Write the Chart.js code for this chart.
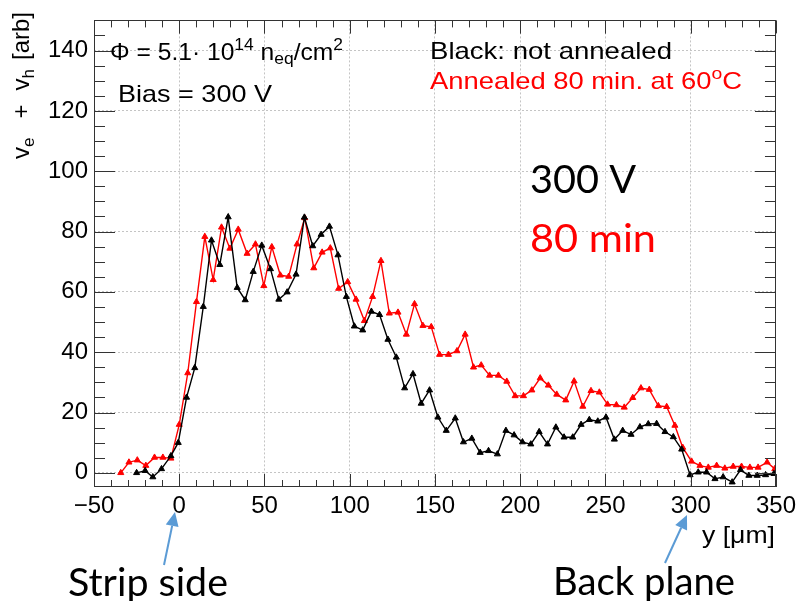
<!DOCTYPE html>
<html>
<head>
<meta charset="utf-8">
<script src="https://cdn.jsdelivr.net/npm/chart.js@4.4.1/dist/chart.umd.min.js"></script>
<style>
  html, body { margin: 0; padding: 0; background: #fff; }
  #wrap { width: 801px; height: 601px; }
</style>
</head>
<body>
<div id="wrap"><canvas id="c" width="801" height="601"></canvas></div>
<script>
// 讀圖得到的數值 (y 單位 µm)
const xBlack = [-25, -20, -15.5, -10.4, -4.9, -0.6, 4.3, 9.1, 14.1, 18.9, 23.8, 28.7, 34, 38.7, 43.4, 48.4, 53.5, 58.4,
  63.3, 68.5, 73.4, 78.3, 83.2, 88.1, 93.1, 98, 102.7, 107.6, 112.7, 117.5, 122.4, 127.3, 132.2, 137.1, 141.9, 146.8,
  151.7, 156.6, 161.9, 166.7, 171.6, 176.5, 181.4, 186.6, 191.6, 196.4, 201.3, 206.2, 211.1, 216, 220.9, 225.7, 230.8,
  235.7, 240.5, 245.5, 250.3, 255.2, 260.1, 265, 270.2, 275.1, 280, 284.9, 289.8, 294.7, 299.6, 304.4, 309.3, 314.2,
  319, 324.3, 329.2, 334.1, 339, 343.9, 348.8];
const yBlack = [0, 0.7, -1.4, 1.3, 5.6, 10, 25, 34.8, 55.1, 77.1, 69, 84.8, 61.4, 57.3, 66.7, 75.4, 67.6, 57.5,
  59.9, 65.8, 84.7, 75.2, 79, 81.7, 72.2, 58.4, 48.6, 47.3, 53.5, 52.4, 44.2, 38.3, 28.1, 32.8, 23, 27.4,
  18.4, 14, 18.1, 10.2, 11.4, 6.7, 7.3, 6.2, 14, 12.5, 10.2, 9.5, 13.6, 9.5, 15.1, 11.8, 11.8,
  16, 17.6, 17.1, 18.4, 11.1, 14, 12.7, 15.2, 16.2, 16.3, 13.6, 11.9, 7.8, -0.7, 0.2, 0.2, -2,
  -1.4, -3.1, 1, -0.9, -0.9, -0.7, -0.3];

const xRed = [-34.3, -29.5, -24.6, -19.6, -14.5, -9.6, -4.9, 0, 5, 10.1, 15, 19.9, 24.8, 29.7, 34.6, 39.8, 44.7, 49.6,
  54.3, 59.3, 64.2, 69.1, 73.6, 78.9, 83.8, 88.6, 93.5, 98.8, 103.7, 108.6, 113.4, 118.3, 123.2, 128.3, 133.2, 138,
  142.9, 147.8, 152.7, 157.9, 162.9, 167.7, 172.6, 177.1, 182, 187.2, 192.1, 197, 201.9, 206.8, 211.7, 216.5, 221.4,
  226.7, 231.6, 236.7, 241.5, 246.4, 251.2, 256.4, 261, 266, 270.8, 275.7, 281, 285.9, 290.7, 295.3, 300.5, 305.4,
  310.3, 315.2, 320, 324.9, 329.8, 334.7, 339.5, 344.8, 349.3];
const yRed = [0, 3.5, 4.2, 2.4, 5.1, 5.1, 4.8, 16, 33.1, 56.7, 78.3, 64, 81.4, 74.4, 80.7, 72.7, 75.8, 62,
  74.9, 65.5, 65.1, 75.8, 84.5, 67.9, 73.1, 74.5, 61.1, 63.3, 57.5, 50.4, 58.4, 70.3, 52.9, 53.2, 45.9, 56,
  48.8, 48.4, 39.2, 39.2, 40.4, 45.9, 35, 35.7, 32.3, 32.3, 30.3, 25.5, 25.5, 27.4, 31.4, 29, 26,
  24.1, 30.4, 22, 27.2, 26.7, 22.7, 22.5, 21.7, 24.9, 28.1, 27.6, 22.2, 21.9, 15.7, 8.4, 3.8, 2.4,
  1.8, 2.4, 1.5, 2.1, 2.1, 1.8, 1.8, 3.5, 1.3];

const xTicks = [-50, 0, 50, 100, 150, 200, 250, 300, 350];
const yTicks = [0, 20, 40, 60, 80, 100, 120, 140];

const ROOT_FONT = '"Liberation Sans", Arial, sans-serif';
const SLIDE_FONT = 'Lato, "Open Sans", sans-serif';
const BLUE = '#5b9bd5';

// 量文字寬度 (含上下標)
function richWidth(ctx, parts) {
  let w = 0;
  parts.forEach(p => {
    if (typeof p === 'number') { w += p; return; }
    ctx.font = p[1] + 'px ' + ROOT_FONT;
    w += ctx.measureText(p[0]).width;
  });
  return w;
}

// 畫含上下標的文字, 可橫向縮放到指定寬度
function richText(ctx, parts, x, y, width) {
  const natural = richWidth(ctx, parts);
  ctx.save();
  ctx.translate(x, y);
  if (width) ctx.scale(width / natural, 1);
  let cx = 0;
  parts.forEach(p => {
    if (typeof p === 'number') { cx += p; return; }
    const [t, size, dy] = p;
    ctx.font = size + 'px ' + ROOT_FONT;
    ctx.fillText(t, cx, dy || 0);
    cx += ctx.measureText(t).width;
  });
  ctx.restore();
}

function fitText(ctx, text, x, y, w, size, color) {
  ctx.save();
  ctx.font = size + 'px ' + SLIDE_FONT;
  ctx.fillStyle = color;
  const m = ctx.measureText(text).width;
  ctx.translate(x, y);
  ctx.scale(w / m, 1);
  ctx.fillText(text, 0, 0);
  ctx.restore();
}

function arrow(ctx, x1, y1, x2, y2) {
  const a = Math.atan2(y2 - y1, x2 - x1);
  const hl = 14, hw = 6.5;
  const bx = x2 - hl * Math.cos(a), by = y2 - hl * Math.sin(a);
  ctx.save();
  ctx.strokeStyle = BLUE;
  ctx.fillStyle = BLUE;
  ctx.lineWidth = 2;
  ctx.beginPath();
  ctx.moveTo(x1, y1);
  ctx.lineTo(bx, by);
  ctx.stroke();
  ctx.beginPath();
  ctx.moveTo(x2, y2);
  ctx.lineTo(bx - hw * Math.sin(a), by + hw * Math.cos(a));
  ctx.lineTo(bx + hw * Math.sin(a), by - hw * Math.cos(a));
  ctx.closePath();
  ctx.fill();
  ctx.restore();
}

// 外框與刻度 (ROOT 風格, 刻度朝內)
const framePlugin = {
  id: 'frame',
  afterDatasetsDraw(chart) {
    const ctx = chart.ctx;
    const { left, right, top, bottom } = chart.chartArea;
    const xs = chart.scales.x, ys = chart.scales.y;
    ctx.save();
    ctx.strokeStyle = '#333';
    ctx.lineWidth = 1;
    ctx.beginPath();
    for (let i = 0; i < xTicks.length - 1; i++) {
      const step = (xTicks[i + 1] - xTicks[i]) / 5;
      for (let k = 0; k <= 5; k++) {
        const px = Math.round(xs.getPixelForValue(xTicks[i] + k * step)) + 0.5;
        const len = (k === 0 || k === 5) ? 13 : 7;
        ctx.moveTo(px, bottom); ctx.lineTo(px, bottom - len);
        ctx.moveTo(px, top); ctx.lineTo(px, top + len);
      }
    }
    for (let i = 0; i < yTicks.length; i++) {
      for (let k = 0; k < 4; k++) {
        const v = yTicks[i] + k * 5;
        if (v > ys.max) break;
        const py = Math.round(ys.getPixelForValue(v)) + 0.5;
        const len = k === 0 ? 21 : 11;
        ctx.moveTo(left, py); ctx.lineTo(left + len, py);
        ctx.moveTo(right, py); ctx.lineTo(right - len, py);
      }
    }
    ctx.stroke();
    ctx.strokeRect(Math.round(left) + 0.5, Math.round(top) + 0.5, Math.round(right - left) - 1, Math.round(bottom - top) - 1);
    ctx.restore();
  },
  afterDraw(chart) {
    const ctx = chart.ctx;
    ctx.save();
    ctx.textBaseline = 'alphabetic';
    ctx.textAlign = 'left';
    ctx.fillStyle = '#000';

    // y 軸標題 (旋轉, 右端對齊上緣)
    ctx.save();
    ctx.translate(29, 12);
    ctx.rotate(-Math.PI / 2);
    const yTitle = [['v', 24], ['e', 17, 5], 19, ['+', 24], 14, ['v', 24], ['h', 17, 5], 9, ['[arb]', 24]];
    richText(ctx, yTitle, -richWidth(ctx, yTitle), 0);
    ctx.restore();

    // x 軸標題
    richText(ctx, [['y [\u03BCm]', 24]], 702, 543, 73);

    richText(ctx, [['\u03A6 = 5.1\u00B7 10', 24], ['14', 17, -9.5], [' n', 24], ['eq', 17, 4], ['/cm', 24], ['2', 17, -9.5]], 110, 59.5, 233);
    richText(ctx, [['Bias = 300 V', 24]], 118, 101.5, 154);
    richText(ctx, [['Black: not annealed', 24]], 430, 59, 242);
    ctx.fillStyle = '#ff0000';
    richText(ctx, [['Annealed 80 min. at 60', 24], ['o', 17, -9.5], ['C', 24]], 430, 88.5, 312);

    fitText(ctx, '300 V', 530, 193.3, 106, 38, '#000');
    fitText(ctx, '80 min', 530, 251.5, 126, 38, '#ff0000');
    fitText(ctx, 'Strip side', 68, 596, 160, 38, '#000');
    fitText(ctx, 'Back plane', 553, 595, 182, 38, '#000');

    arrow(ctx, 164, 565, 175, 512);
    arrow(ctx, 665, 563, 687, 515);
    ctx.restore();
  }
};

const toPoints = (xs, ys) => xs.map((x, i) => ({ x, y: ys[i] }));

new Chart(document.getElementById('c'), {
  type: 'scatter',
  data: {
    datasets: [
      {
        label: 'not annealed',
        data: toPoints(xBlack, yBlack),
        showLine: true,
        borderColor: '#000',
        backgroundColor: '#000',
        borderWidth: 1.4,
        pointStyle: 'triangle',
        pointRadius: 3.5,
        pointBorderWidth: 1
      },
      {
        label: 'annealed 80 min at 60C',
        data: toPoints(xRed, yRed),
        showLine: true,
        borderColor: '#ff0000',
        backgroundColor: '#ff0000',
        borderWidth: 1.4,
        pointStyle: 'triangle',
        pointRadius: 3.5,
        pointBorderWidth: 1
      }
    ]
  },
  options: {
    responsive: false,
    devicePixelRatio: 1,
    animation: false,
    layout: { padding: { top: 13, right: 25, left: 0, bottom: 0 } },
    plugins: { legend: { display: false }, tooltip: { enabled: false } },
    scales: {
      x: {
        type: 'linear',
        min: -50,
        max: 350,
        afterBuildTicks: s => { s.ticks = xTicks.map(v => ({ value: v })); },
        afterFit: s => { s.height = 114; },
        grid: { color: '#c4c4c4', lineWidth: 1, drawTicks: false },
        border: { display: false, dash: [2, 2] },
        ticks: {
          autoSkip: false,
          maxRotation: 0,
          padding: 5,
          color: '#000',
          font: { family: ROOT_FONT, size: 24 },
          callback: v => v < 0 ? '\u2212' + Math.abs(v) : String(v)
        }
      },
      y: {
        type: 'linear',
        min: -4.7,
        max: 150,
        afterBuildTicks: s => { s.ticks = yTicks.map(v => ({ value: v })); },
        afterFit: s => { s.width = 94; },
        grid: { color: '#c4c4c4', lineWidth: 1, drawTicks: false },
        border: { display: false, dash: [2, 2] },
        ticks: {
          padding: 6,
          color: '#000',
          font: { family: ROOT_FONT, size: 24 }
        }
      }
    }
  },
  plugins: [framePlugin]
});
</script>
</body>
</html>
